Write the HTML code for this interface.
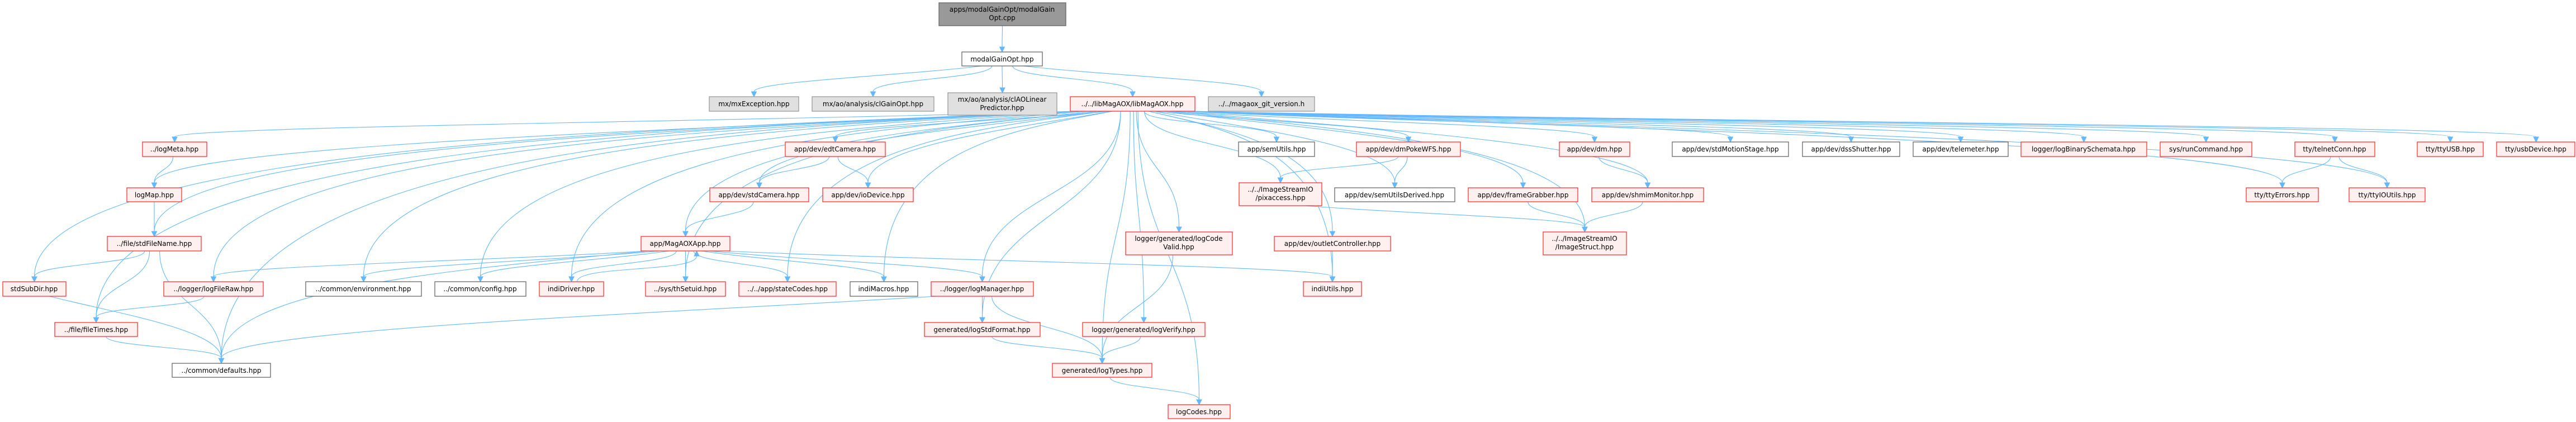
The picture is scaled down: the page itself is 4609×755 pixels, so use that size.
<!DOCTYPE html>
<html><head><meta charset="utf-8"><style>
html,body{margin:0;padding:0;background:#fff;}
svg{display:block;}
text{font-family:"DejaVu Sans","Liberation Sans",sans-serif;font-size:12px;fill:#000;text-anchor:middle;}
.r{fill:#fff0f0;stroke:#f33;stroke-width:1.3;}
.w{fill:#fff;stroke:#666;stroke-width:1.3;}
.g{fill:#e0e0e0;stroke:#999;stroke-width:1.3;}
.d{fill:#999;stroke:#666;stroke-width:1.3;}
.e{fill:none;stroke:#63b8ff;stroke-width:1.1;}
.a{fill:#63b8ff;stroke:#63b8ff;}
</style></head><body>
<svg id="s" width="4609" height="755" viewBox="0 0 4609 755" xmlns="http://www.w3.org/2000/svg">
<g id="edges"></g>
<g id="nodes">
<rect class="d" x="1680" y="5" width="227" height="41"/><text x="1793" y="21">apps/modalGainOpt/modalGain</text><text x="1793" y="36">Opt.cpp</text>
<rect class="w" x="1721" y="93" width="144" height="25"/><text x="1793" y="110">modalGainOpt.hpp</text>
<rect class="g" x="1269" y="173" width="160" height="26"/><text x="1349" y="190">mx/mxException.hpp</text>
<rect class="g" x="1453" y="173" width="218" height="26"/><text x="1562" y="190">mx/ao/analysis/clGainOpt.hpp</text>
<rect class="g" x="1696" y="166" width="195" height="40"/><text x="1793" y="182">mx/ao/analysis/clAOLinear</text><text x="1793" y="197">Predictor.hpp</text>
<rect class="r" x="1915" y="173" width="223" height="26"/><text x="2026" y="190">../../libMagAOX/libMagAOX.hpp</text>
<rect class="g" x="2162" y="173" width="190" height="26"/><text x="2257" y="190">../../magaox_git_version.h</text>
<rect class="r" x="255" y="254" width="115" height="26"/><text x="312" y="271">../logMeta.hpp</text>
<rect class="r" x="227" y="336" width="98" height="25"/><text x="276" y="353">logMap.hpp</text>
<rect class="r" x="192" y="423" width="168" height="26"/><text x="276" y="440">../file/stdFileName.hpp</text>
<rect class="r" x="5" y="504" width="113" height="26"/><text x="61" y="521">stdSubDir.hpp</text>
<rect class="r" x="293" y="504" width="178" height="26"/><text x="382" y="521">../logger/logFileRaw.hpp</text>
<rect class="w" x="547" y="504" width="207" height="26"/><text x="650" y="521">../common/environment.hpp</text>
<rect class="w" x="778" y="504" width="163" height="26"/><text x="859" y="521">../common/config.hpp</text>
<rect class="r" x="98" y="577" width="148" height="25"/><text x="172" y="594">../file/fileTimes.hpp</text>
<rect class="w" x="308" y="650" width="176" height="25"/><text x="396" y="667">../common/defaults.hpp</text>
<rect class="r" x="1405" y="254" width="179" height="26"/><text x="1494" y="271">app/dev/edtCamera.hpp</text>
<rect class="r" x="1270" y="336" width="177" height="25"/><text x="1358" y="353">app/dev/stdCamera.hpp</text>
<rect class="r" x="1472" y="336" width="162" height="25"/><text x="1553" y="353">app/dev/ioDevice.hpp</text>
<rect class="r" x="1147" y="423" width="159" height="26"/><text x="1226" y="440">app/MagAOXApp.hpp</text>
<rect class="r" x="965" y="504" width="115" height="26"/><text x="1022" y="521">indiDriver.hpp</text>
<rect class="r" x="1155" y="504" width="143" height="26"/><text x="1226" y="521">../sys/thSetuid.hpp</text>
<rect class="r" x="1322" y="504" width="174" height="26"/><text x="1409" y="521">../../app/stateCodes.hpp</text>
<rect class="w" x="1521" y="504" width="121" height="26"/><text x="1581" y="521">indiMacros.hpp</text>
<rect class="r" x="1666" y="504" width="183" height="26"/><text x="1757" y="521">../logger/logManager.hpp</text>
<rect class="r" x="1654" y="577" width="207" height="25"/><text x="1757" y="594">generated/logStdFormat.hpp</text>
<rect class="w" x="2216" y="254" width="136" height="26"/><text x="2284" y="271">app/semUtils.hpp</text>
<rect class="r" x="2427" y="254" width="186" height="26"/><text x="2520" y="271">app/dev/dmPokeWFS.hpp</text>
<rect class="r" x="2217" y="327" width="148" height="41"/><text x="2291" y="343">../../ImageStreamIO</text><text x="2291" y="358">/pixaccess.hpp</text>
<rect class="w" x="2388" y="336" width="215" height="25"/><text x="2495" y="353">app/dev/semUtilsDerived.hpp</text>
<rect class="r" x="2627" y="336" width="196" height="25"/><text x="2725" y="353">app/dev/frameGrabber.hpp</text>
<rect class="r" x="2014" y="415" width="191" height="41"/><text x="2109" y="431">logger/generated/logCode</text><text x="2109" y="446">Valid.hpp</text>
<rect class="r" x="2280" y="423" width="208" height="26"/><text x="2384" y="440">app/dev/outletController.hpp</text>
<rect class="r" x="2332" y="504" width="104" height="26"/><text x="2384" y="521">indiUtils.hpp</text>
<rect class="r" x="1937" y="577" width="219" height="25"/><text x="2046" y="594">logger/generated/logVerify.hpp</text>
<rect class="r" x="1883" y="650" width="178" height="25"/><text x="1972" y="667">generated/logTypes.hpp</text>
<rect class="r" x="2090" y="724" width="111" height="25"/><text x="2145" y="741">logCodes.hpp</text>
<rect class="r" x="2790" y="254" width="126" height="26"/><text x="2853" y="271">app/dev/dm.hpp</text>
<rect class="w" x="2992" y="254" width="208" height="26"/><text x="3096" y="271">app/dev/stdMotionStage.hpp</text>
<rect class="w" x="3225" y="254" width="174" height="26"/><text x="3312" y="271">app/dev/dssShutter.hpp</text>
<rect class="w" x="3423" y="254" width="170" height="26"/><text x="3508" y="271">app/dev/telemeter.hpp</text>
<rect class="r" x="2848" y="336" width="200" height="25"/><text x="2948" y="353">app/dev/shmimMonitor.hpp</text>
<rect class="r" x="2761" y="415" width="149" height="41"/><text x="2835" y="431">../../ImageStreamIO</text><text x="2835" y="446">/ImageStruct.hpp</text>
<rect class="r" x="3616" y="254" width="225" height="26"/><text x="3728" y="271">logger/logBinarySchemata.hpp</text>
<rect class="r" x="3865" y="254" width="164" height="26"/><text x="3947" y="271">sys/runCommand.hpp</text>
<rect class="r" x="4106" y="254" width="143" height="26"/><text x="4177" y="271">tty/telnetConn.hpp</text>
<rect class="r" x="4325" y="254" width="118" height="26"/><text x="4384" y="271">tty/ttyUSB.hpp</text>
<rect class="r" x="4467" y="254" width="140" height="26"/><text x="4537" y="271">tty/usbDevice.hpp</text>
<rect class="r" x="4019" y="336" width="129" height="25"/><text x="4083" y="353">tty/ttyErrors.hpp</text>
<rect class="r" x="4203" y="336" width="136" height="25"/><text x="4271" y="353">tty/ttyIOUtils.hpp</text>
</g>
</svg>
<script>
var N={top:[1680,1907,5,46],mgh:[1721,1865,93,118],mxe:[1269,1429,173,199],clg:[1453,1671,173,199],clao:[1696,1891,166,206],lib:[1915,2138,173,199],git:[2162,2352,173,199],
logMeta:[255,370,254,280],logMap:[227,325,336,361],sfn:[192,360,423,449],ssd:[5,118,504,530],lfr:[293,471,504,530],env:[547,754,504,530],cfg:[778,941,504,530],ft:[98,246,577,602],def:[308,484,650,675],
edt:[1405,1584,254,280],stdc:[1270,1447,336,361],iod:[1472,1634,336,361],app:[1147,1306,423,449],indiD:[965,1080,504,530],ths:[1155,1298,504,530],stc:[1322,1496,504,530],imac:[1521,1642,504,530],lman:[1666,1849,504,530],lsf:[1654,1861,577,602],
sem:[2216,2352,254,280],dmp:[2427,2613,254,280],pix:[2217,2365,327,368],sud:[2388,2603,336,361],fg:[2627,2823,336,361],lcv:[2014,2205,415,456],oc:[2280,2488,423,449],iu:[2332,2436,504,530],lv:[1937,2156,577,602],lt:[1883,2061,650,675],lc:[2090,2201,724,749],
dm:[2790,2916,254,280],sms:[2992,3200,254,280],dss:[3225,3399,254,280],tel:[3423,3593,254,280],shm:[2848,3048,336,361],is:[2761,2910,415,456],
lbs:[3616,3841,254,280],rc:[3865,4029,254,280],tc:[4106,4249,254,280],usb:[4325,4443,254,280],usbd:[4467,4608,254,280],te:[4019,4148,336,361],tio:[4203,4339,336,361]};
var E=[["top","mgh"],["mgh","mxe"],["mgh","clg"],["mgh","clao"],["mgh","lib"],["mgh","git"]];
"logMeta logMap sfn ssd ft lfr def env cfg indiD app stdc edt iod ths stc imac lman lsf lt lv lcv lc sem pix dmp sud oc iu fg dm shm is sms dss tel lbs rc tc te tio usb usbd".split(" ").forEach(function(t){E.push(["lib",t]);});
E=E.concat([["logMeta","logMap"],["logMap","sfn"],["sfn","ssd"],["sfn","ft"],["sfn","def"],["ssd","def"],["lfr","ft"],["ft","def"],
["edt","stdc"],["edt","iod"],["stdc","app"],["app","env"],["app","cfg"],["app","indiD"],["indiD","app"],["app","ths"],["app","stc"],["app","imac"],["app","lman"],["app","iu"],["app","lfr"],["app","def"],
["lman","lsf"],["lman","lt"],["lman","def"],["lsf","lt"],["lv","lt"],["lcv","lt"],["lt","lc"],
["dmp","pix"],["dmp","sud"],["pix","is"],["oc","iu"],["fg","is"],["dm","shm"],["shm","is"],["tc","te"],["tc","tio"]]);
var g=document.getElementById("edges"),ns="http://www.w3.org/2000/svg",h="";
E.forEach(function(e){var s=N[e[0]],t=N[e[1]];
 var sc=(s[0]+s[1])/2,tc=(t[0]+t[1])/2,x1,y1,x2,y2,c1x,c1y,c2x,c2y;
 if(t[2]<s[2]){ // upward edge
  x1=sc+10;y1=s[2];x2=tc+20;y2=t[3]+9;c1x=x1;c1y=y1-30;c2x=x2;c2y=y2+30;
 } else {
  var dx=tc-sc;x1=sc+Math.max(-(s[1]-s[0])/2+10,Math.min((s[1]-s[0])/2-10,dx*0.08));y1=s[3];x2=tc;y2=t[2]-9;
  var dy=y2-y1;
  if(Math.abs(dx)>300){c1x=x1+dx*0.35;c1y=y1+Math.min(30,dy*0.4);c2x=x2;c2y=y1+Math.min(60,dy*0.6);}
  else{c1x=x1;c1y=y1+dy*0.5;c2x=x2;c2y=y1+dy*0.5;}
 }
 h+='<path class="e" d="M'+x1+','+y1+' C'+c1x+','+c1y+' '+c2x+','+c2y+' '+x2+','+y2+'"/>';
 var ex=x2,ey=y2,vx=x2-c2x,vy=y2-c2y,L=Math.sqrt(vx*vx+vy*vy)||1;vx/=L;vy/=L;
 var tx=ex+vx*9,ty=ey+vy*9,px=-vy*4.5,py=vx*4.5;
 h+='<path class="a" d="M'+tx+','+ty+' L'+(ex+px)+','+(ey+py)+' L'+(ex-px)+','+(ey-py)+' Z"/>';
});
g.innerHTML=h;
</script>
</body></html>
